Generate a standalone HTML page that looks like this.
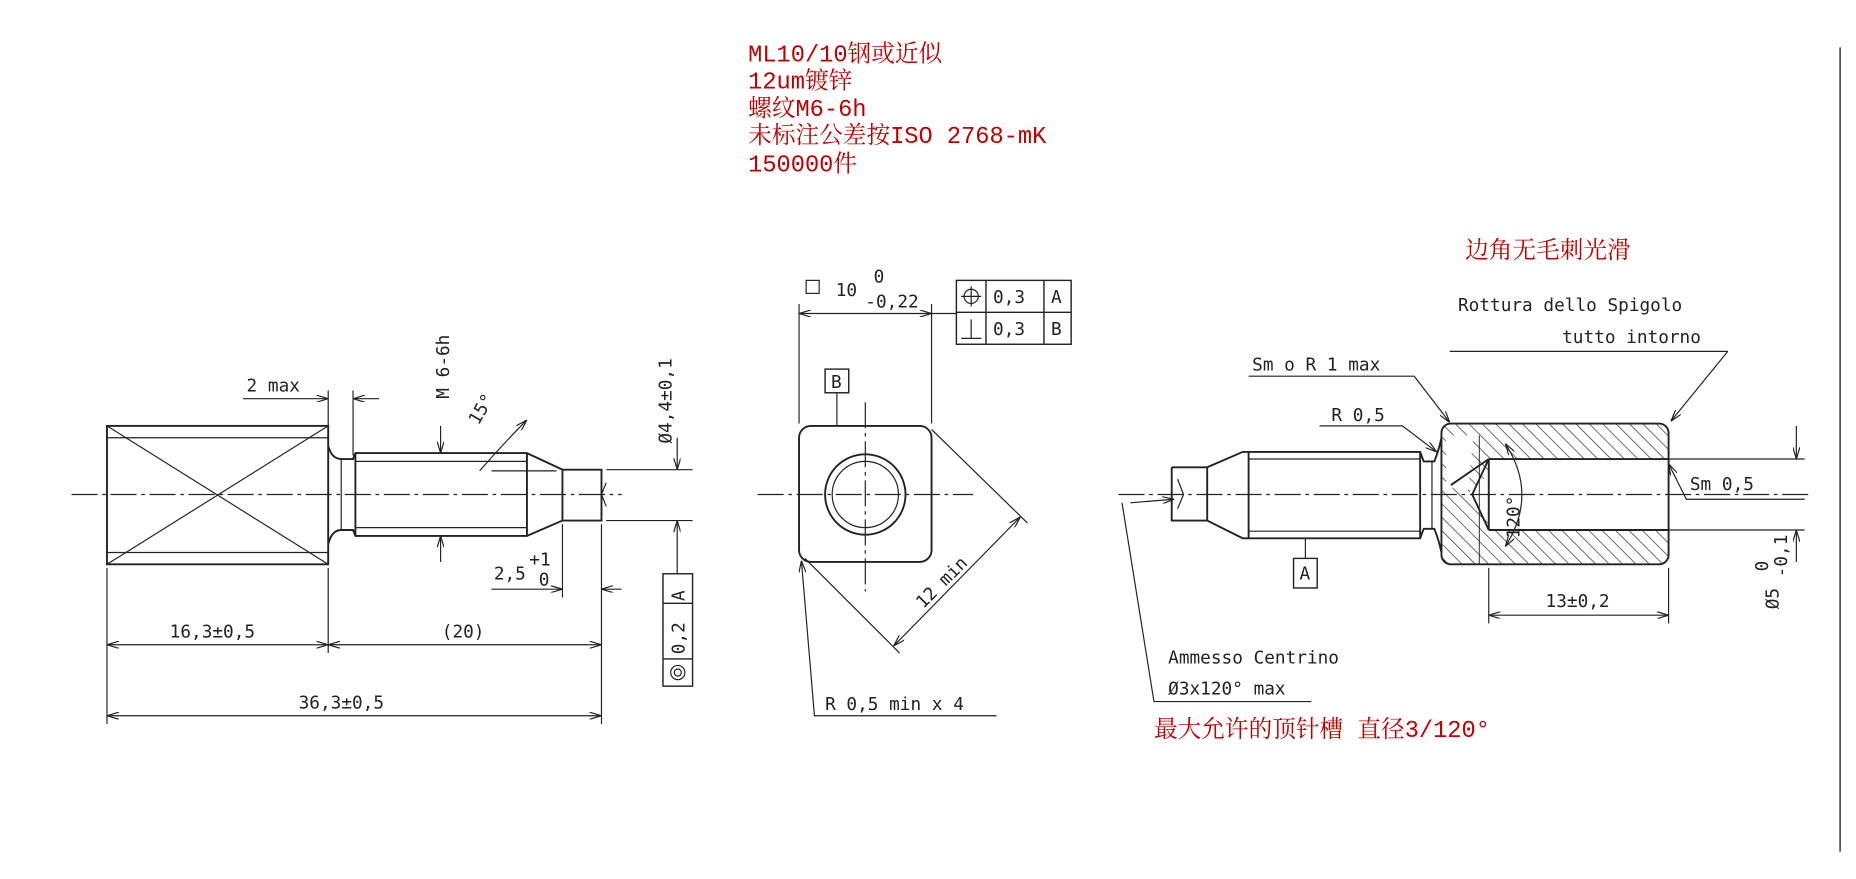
<!DOCTYPE html>
<html><head><meta charset="utf-8"><style>
html,body{margin:0;padding:0;background:#fff;}
svg{display:block}
text{font-family:"DejaVu Sans Mono","Liberation Mono",monospace;fill:#222;font-size:15px}
.r{font-family:"Liberation Mono","Noto Serif CJK SC",monospace;fill:#c00000;font-size:20px}
</style></head><body>
<svg width="1856" height="879" viewBox="0 0 1568 743" xmlns="http://www.w3.org/2000/svg">
<defs>
<marker id="a" markerWidth="10" markerHeight="6" refX="10" refY="3" orient="auto-start-reverse" markerUnits="userSpaceOnUse"><path d="M0,0 L10,3 L0,6" fill="none" stroke="#222" stroke-width="1"/></marker>
<pattern id="h" width="8" height="8" patternUnits="userSpaceOnUse" patternTransform="rotate(-45)"><line x1="0" y1="0" x2="0" y2="8" stroke="#333" stroke-width="1.2"/></pattern>
</defs>
<rect width="1568" height="743" fill="#fff"/>
<line x1="1555" y1="40" x2="1555" y2="720" stroke="#555" stroke-width="1.5"/>
<!-- red notes -->
<text class="r" x="632" y="52">ML10/10钢或近似</text>
<text class="r" x="632" y="75">12um镀锌</text>
<text class="r" x="632" y="98">螺纹M6-6h</text>
<text class="r" x="632" y="121">未标注公差按ISO 2768-mK</text>
<text class="r" x="632" y="145">150000件</text>
<text class="r" x="1238" y="218">边角无毛刺光滑</text>
<text class="r" x="975" y="623">最大允许的顶针槽 直径3/120°</text>

<g stroke="#222" fill="none" stroke-width="1.6">
<!-- LEFT PART -->
<rect x="90" y="360" width="187" height="117"/>
<line x1="90" y1="360" x2="277" y2="477" stroke-width="1"/><line x1="90" y1="477" x2="277" y2="360" stroke-width="1"/>
<line x1="90" y1="370" x2="277" y2="370" stroke-width="1"/><line x1="90" y1="467" x2="277" y2="467" stroke-width="1"/>
<path d="M277,377 Q280,388 288,388 L298,388 L300,383 L445,383 L475,397 L508,397 L508,440 L475,440 L445,453 L300,453 L298,448 L288,448 Q280,448 277,460"/>
<line x1="300" y1="383" x2="300" y2="453"/><line x1="445" y1="383" x2="445" y2="453"/><line x1="475" y1="397" x2="475" y2="440"/>
<line x1="300" y1="390" x2="445" y2="390" stroke-width="1"/><line x1="300" y1="446" x2="445" y2="446" stroke-width="1"/>
<line x1="288" y1="388" x2="288" y2="448" stroke-width="1"/>
<path d="M512,408 L508,418 L512,428" stroke-width="1"/>
<line x1="60" y1="418" x2="525" y2="418" stroke-width="1" stroke-dasharray="22,4,3,4"/>
<g stroke-width="1">
<line x1="90" y1="480" x2="90" y2="612"/><line x1="277" y1="480" x2="277" y2="552"/><line x1="508" y1="443" x2="508" y2="612"/>
<line x1="90" y1="545" x2="277" y2="545" marker-start="url(#a)" marker-end="url(#a)"/>
<line x1="277" y1="545" x2="508" y2="545" marker-start="url(#a)" marker-end="url(#a)"/>
<line x1="90" y1="605" x2="508" y2="605" marker-start="url(#a)" marker-end="url(#a)"/>
<line x1="277" y1="330" x2="277" y2="375"/><line x1="298" y1="330" x2="298" y2="385"/>
<line x1="205" y1="337" x2="277" y2="337" marker-end="url(#a)"/><line x1="298" y1="337" x2="320" y2="337" marker-start="url(#a)"/>
<line x1="475" y1="443" x2="475" y2="505"/>
<line x1="415" y1="498" x2="475" y2="498" marker-end="url(#a)"/><line x1="508" y1="498" x2="525" y2="498" marker-start="url(#a)"/>
<line x1="372" y1="360" x2="372" y2="383" marker-end="url(#a)"/><line x1="372" y1="453" x2="372" y2="475" marker-start="url(#a)"/>
<line x1="512" y1="397" x2="585" y2="397"/><line x1="512" y1="440" x2="585" y2="440"/>
<line x1="572" y1="370" x2="572" y2="397" marker-end="url(#a)"/><line x1="572" y1="440" x2="572" y2="485" marker-start="url(#a)"/>
<path d="M405,398 Q425,375 445,355" marker-end="url(#a)"/>
<path d="M415,398 L470,398" />
</g>
<rect x="560" y="485" width="25" height="95" stroke-width="1.2"/>
<line x1="560" y1="510" x2="585" y2="510" stroke-width="1.2"/><line x1="560" y1="557" x2="585" y2="557" stroke-width="1.2"/>
<circle cx="572.5" cy="568.5" r="6" stroke-width="1"/><circle cx="572.5" cy="568.5" r="3" stroke-width="1"/>

<!-- MIDDLE PART -->
<rect x="675" y="360" width="112" height="115" rx="10"/>
<circle cx="731" cy="418" r="34"/><circle cx="731" cy="418" r="28" stroke-width="1"/>
<line x1="640" y1="418" x2="822" y2="418" stroke-width="1" stroke-dasharray="22,4,3,4"/>
<line x1="731" y1="340" x2="731" y2="500" stroke-width="1" stroke-dasharray="22,4,3,4"/>
<rect x="697" y="312" width="20" height="20" stroke-width="1.2"/>
<line x1="707" y1="332" x2="707" y2="360" stroke-width="1"/>
<g stroke-width="1">
<line x1="675" y1="257" x2="675" y2="358"/><line x1="787" y1="257" x2="787" y2="358"/>
<line x1="675" y1="265" x2="787" y2="265" marker-start="url(#a)" marker-end="url(#a)"/>
<line x1="787" y1="265" x2="808" y2="265"/>
<line x1="787" y1="363" x2="868" y2="442"/><line x1="680" y1="472" x2="760" y2="552"/>
<line x1="862" y1="437" x2="755" y2="546" marker-start="url(#a)" marker-end="url(#a)"/>
<polyline points="677,474 688,605 842,605" marker-start="url(#a)"/>
</g>
<rect x="808" y="237" width="97" height="54" stroke-width="1.2"/>
<line x1="808" y1="264" x2="905" y2="264" stroke-width="1.2"/>
<line x1="833" y1="237" x2="833" y2="291" stroke-width="1.2"/><line x1="882" y1="237" x2="882" y2="291" stroke-width="1.2"/>
<circle cx="820.5" cy="250.5" r="6" stroke-width="1"/><line x1="812" y1="250.5" x2="829" y2="250.5" stroke-width="1"/><line x1="820.5" y1="242" x2="820.5" y2="259" stroke-width="1"/>
<line x1="820.5" y1="270" x2="820.5" y2="286" stroke-width="1"/><line x1="812" y1="286" x2="829" y2="286" stroke-width="1"/>
<rect x="681" y="237" width="11" height="11" stroke-width="1"/>

<!-- RIGHT PART -->
<rect x="1218" y="358" width="192" height="119" rx="8" fill="url(#h)" stroke="none"/>
<path d="M1258,388 L1410,388 L1410,448 L1258,448 L1258,435 L1240,418 L1258,401 Z" fill="#fff" stroke="none"/>
<path d="M1222,368 L1245,368 L1240,418 L1222,410 Z" fill="#fff" stroke="none"/>
<rect x="1218" y="358" width="192" height="119" rx="8"/>
<path d="M1258,388 L1410,388 M1258,448 L1410,448 M1258,388 L1258,448 M1226,410 L1258,388 M1258,448 L1244,418 L1258,388"/>
<line x1="1250" y1="368" x2="1250" y2="477" stroke-width="0.8"/>
<path d="M990,395 L1020,395 L1050,382 L1200,382 L1203,390 L1212,390 Q1216,380 1218,370 M990,395 L990,440 L1020,440 L1050,455 L1200,455 L1203,447 L1212,447 Q1216,457 1218,467"/>
<line x1="1020" y1="395" x2="1020" y2="440"/><line x1="1055" y1="382" x2="1055" y2="455"/><line x1="1200" y1="382" x2="1200" y2="455"/>
<line x1="1055" y1="388" x2="1200" y2="388" stroke-width="1"/><line x1="1055" y1="449" x2="1200" y2="449" stroke-width="1"/>
<line x1="1210" y1="390" x2="1210" y2="447" stroke-width="1"/>
<path d="M995,405 L1000,418 L995,430" stroke-width="1"/>
<line x1="945" y1="418" x2="1530" y2="418" stroke-width="1" stroke-dasharray="22,4,3,4"/>
<rect x="1093" y="472" width="20" height="25" stroke-width="1.2"/>
<line x1="1103" y1="455" x2="1103" y2="472" stroke-width="1"/>
<g stroke-width="1">
<path d="M1272,375 Q1300,418 1272,462" marker-start="url(#a)" marker-end="url(#a)"/>
<line x1="1258" y1="480" x2="1258" y2="527"/><line x1="1410" y1="480" x2="1410" y2="527"/>
<line x1="1258" y1="520" x2="1410" y2="520" marker-start="url(#a)" marker-end="url(#a)"/>
<line x1="1410" y1="388" x2="1525" y2="388"/><line x1="1410" y1="448" x2="1525" y2="448"/>
<line x1="1518" y1="360" x2="1518" y2="388" marker-end="url(#a)"/><line x1="1518" y1="448" x2="1518" y2="475" marker-start="url(#a)"/>
<line x1="1225" y1="297" x2="1460" y2="297"/><line x1="1460" y1="297" x2="1412" y2="356" marker-end="url(#a)"/>
<polyline points="1055,318 1195,318 1225,357" marker-end="url(#a)"/>
<polyline points="1115,360 1185,360 1214,382" marker-end="url(#a)"/>
<polyline points="1525,422 1425,422 1410,392" marker-end="url(#a)"/>
<polyline points="1108,593 975,593 948,425" />
<line x1="955" y1="425" x2="992" y2="422" marker-end="url(#a)"/>
</g>
</g>

<text x="208" y="331">2 max</text>
<text x="379" y="337" transform="rotate(-90 379 337)">M 6-6h</text>
<text x="404" y="360" transform="rotate(-60 404 360)">15°</text>
<text x="417" y="490">2,5</text><text x="447" y="478" font-size="12">+1</text><text x="455" y="495" font-size="12">0</text>
<text x="567" y="375" transform="rotate(-90 567 375)">Ø4,4±0,1</text>
<text x="578" y="508" transform="rotate(-90 578 508)">A</text>
<text x="578" y="553" transform="rotate(-90 578 553)">0,2</text>
<text x="143" y="539">16,3±0,5</text>
<text x="373" y="539">(20)</text>
<text x="252" y="599">36,3±0,5</text>
<text x="702" y="328">B</text>
<text x="706" y="250">10</text><text x="738" y="239" font-size="13">0</text><text x="731" y="260" font-size="13">-0,22</text>
<text x="839" y="256">0,3</text><text x="888" y="256">A</text>
<text x="839" y="283">0,3</text><text x="888" y="283">B</text>
<text x="780" y="515" transform="rotate(-45 780 515)">12 min</text>
<text x="697" y="600">R 0,5 min x 4</text>
<text x="1232" y="263">Rottura dello Spigolo</text>
<text x="1320" y="290">tutto intorno</text>
<text x="1058" y="313">Sm o R 1 max</text>
<text x="1125" y="356">R 0,5</text>
<text x="1428" y="414">Sm 0,5</text>
<text x="1098" y="490">A</text>
<text x="1284" y="455" transform="rotate(-90 1284 455)">120°</text>
<text x="1306" y="513">13±0,2</text>
<text x="1503" y="515" transform="rotate(-90 1503 515)">Ø5</text>
<text x="1494" y="483" transform="rotate(-90 1494 483)" font-size="13">0</text>
<text x="1510" y="488" transform="rotate(-90 1510 488)" font-size="13">-0,1</text>
<text x="987" y="561">Ammesso Centrino</text>
<text x="987" y="587">Ø3x120° max</text>
</svg>
</body></html>
